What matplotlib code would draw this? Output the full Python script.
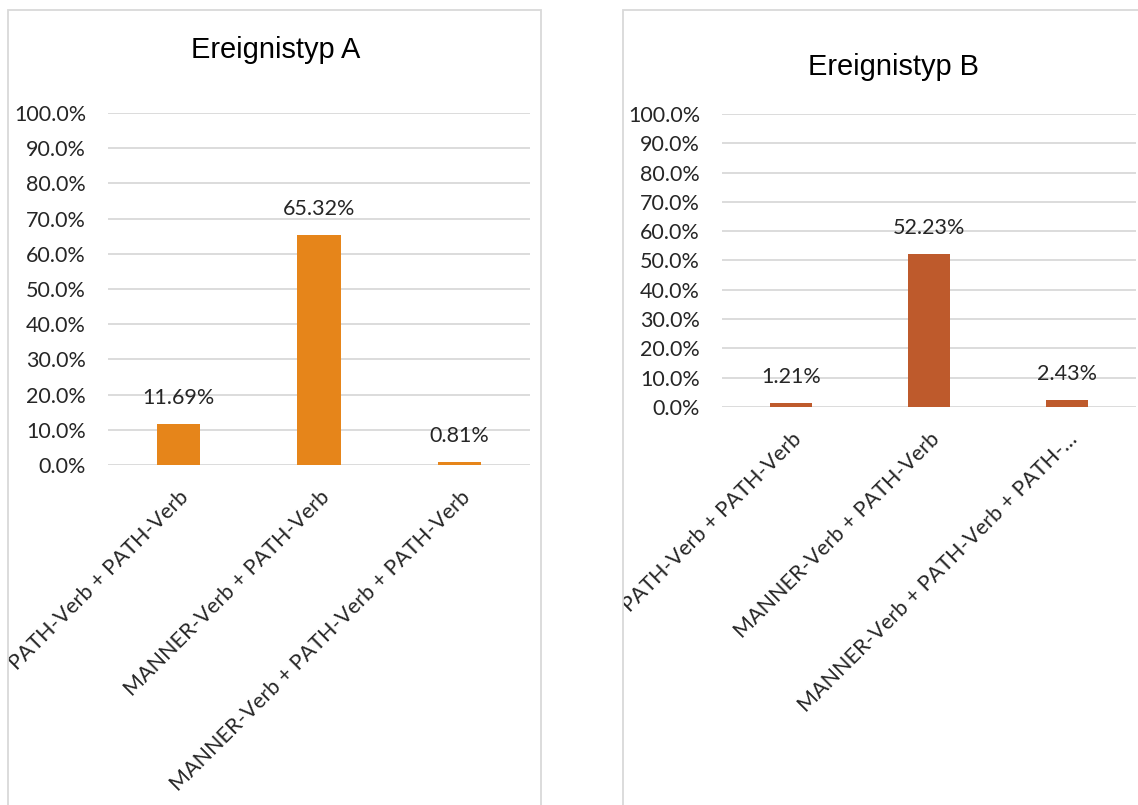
import matplotlib
matplotlib.use("Agg")
import matplotlib.pyplot as plt
from matplotlib.patches import Rectangle
from matplotlib.ticker import FuncFormatter

# ---- data ----
titles = ["Ereignistyp A", "Ereignistyp B"]
cats_a = ["PATH-Verb + PATH-Verb", "MANNER-Verb + PATH-Verb",
          "MANNER-Verb + PATH-Verb + PATH-Verb"]
cats_b = ["PATH-Verb + PATH-Verb", "MANNER-Verb + PATH-Verb",
          "MANNER-Verb + PATH-Verb + PATH-…"]
vals_a = [11.69, 65.32, 0.81]
vals_b = [1.21, 52.23, 2.43]
yticks = [0, 10, 20, 30, 40, 50, 60, 70, 80, 90, 100]

W, H = 1138, 805
DPI = 100
fig = plt.figure(figsize=(W / DPI, H / DPI), dpi=DPI)
fig.patch.set_facecolor("white")

BODY = "Lato"
TITLE = "Liberation Sans"
px = lambda p: p * 72 / DPI  # pixels -> points

def fx(x): return x / W
def fy(y): return 1 - y / H

# panel borders
panel_a = Rectangle((fx(8), fy(830)), fx(541) - fx(8), fy(10) - fy(830),
                    transform=fig.transFigure, fill=False, edgecolor="#d9d9d9",
                    linewidth=1.3)
panel_b = Rectangle((fx(623), fy(830)), fx(1160) - fx(623), fy(10) - fy(830),
                    transform=fig.transFigure, fill=False, edgecolor="#d9d9d9",
                    linewidth=1.3)
fig.add_artist(panel_a)
fig.add_artist(panel_b)

specs = [
    dict(cats=cats_a, vals=vals_a, color="#E6851A", box=(108, 530, 113, 465),
         title=titles[0], tpos=(276, 50), clip=panel_a),
    dict(cats=cats_b, vals=vals_b, color="#BE5A2C", box=(722, 1136, 114, 407),
         title=titles[1], tpos=(894, 67), clip=panel_b),
]

for s in specs:
    l, r, t, b = s["box"]
    ax = fig.add_axes([fx(l), fy(b), fx(r) - fx(l), fy(t) - fy(b)])
    x = list(range(len(s["cats"])))
    ax.bar(x, s["vals"], width=0.31, color=s["color"], zorder=3)
    ax.set_xlim(-0.5, len(x) - 0.5)
    ax.set_ylim(0, 100)
    ax.set_yticks(yticks)
    ax.yaxis.set_major_formatter(FuncFormatter(lambda v, p: f"{v:.1f}%"))
    ax.grid(axis="y", color="#d9d9d9", linewidth=1.3, zorder=0)
    ax.set_axisbelow(True)
    for sp in ax.spines.values():
        sp.set_visible(False)
    ax.tick_params(axis="both", length=0, labelsize=px(21.5),
                   labelcolor="#262626")
    ax.tick_params(axis="y", pad=px(22))
    for lab in ax.get_yticklabels():
        lab.set_fontfamily(BODY)
    ax.set_xticks(x)
    ax.set_xticklabels(s["cats"], rotation=45, ha="right", va="top",
                       rotation_mode="anchor", fontfamily=BODY,
                       fontsize=px(21.5))
    ax.tick_params(axis="x", pad=16)
    for lab in ax.get_xticklabels():
        lab.set_clip_path(s["clip"])
    for xi, v in zip(x, s["vals"]):
        ax.annotate(f"{v:.2f}%", (xi, v), xytext=(0, px(26)),
                    textcoords="offset points", ha="center", va="center",
                    fontsize=px(21.5), fontfamily=BODY, color="#262626",
                    annotation_clip=False)
    fig.text(fx(s["tpos"][0]), fy(s["tpos"][1]), s["title"], ha="center",
             va="center", fontsize=px(29), fontfamily=TITLE, color="#000000")

fig.savefig("out.png", dpi=DPI, facecolor="white")
